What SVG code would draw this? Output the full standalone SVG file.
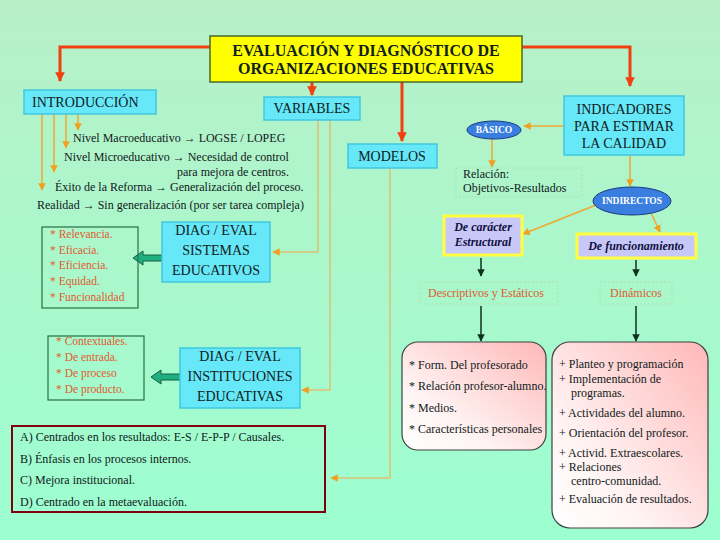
<svg xmlns="http://www.w3.org/2000/svg" width="720" height="540" viewBox="0 0 720 540">
<defs>
<linearGradient id="bg" x1="0" y1="0" x2="0" y2="1"><stop offset="0" stop-color="#b8f0c8"/><stop offset="1" stop-color="#9cffd0"/></linearGradient>
<linearGradient id="pink" x1="1" y1="0" x2="0" y2="1"><stop offset="0" stop-color="#ffb8b8"/><stop offset="0.7" stop-color="#fff4f4"/><stop offset="1" stop-color="#ffffff"/></linearGradient>
<marker id="red" viewBox="0 0 10 10" refX="9" refY="5" markerWidth="3.2" markerHeight="3.2" orient="auto"><path d="M0,0 L10,5 L0,10 z" fill="#f04010"/></marker>
<marker id="or" viewBox="0 0 10 10" refX="9" refY="5" markerWidth="5" markerHeight="5" orient="auto"><path d="M0,0 L10,5 L0,10 z" fill="#f0a020"/></marker>
<marker id="dg" viewBox="0 0 10 10" refX="9" refY="5" markerWidth="5" markerHeight="5" orient="auto"><path d="M0,0 L10,5 L0,10 z" fill="#103020"/></marker>
<style>
text{font-family:"Liberation Serif","Times New Roman",serif;fill:#102020}
.cy{fill:#66e8f8;stroke:#40c8e0;stroke-width:1.5}
.t13{font-size:14px}
.t11{font-size:12px}
.t115{font-size:11.5px}
.o{fill:#e05a30}
.red{stroke:#f04010;stroke-width:3;fill:none}
.orl{stroke:#f0a830;stroke-width:1.5;fill:none}
.tan{stroke:#e0c070;stroke-width:1.5;fill:none}
.dgl{stroke:#103020;stroke-width:1.5;fill:none}
.dash{fill:none;stroke:#b0e0b0;stroke-width:1;stroke-dasharray:2,2}
.lav{fill:#c8c8f8;stroke:#ffff40;stroke-width:3}
.ell{fill:#3a7ee0;stroke:#1a3a80;stroke-width:1}
.et{font-size:9.5px;font-weight:bold;fill:#ffffff}
.bi{font-size:12px;font-weight:bold;font-style:italic;fill:#101040}
.pk{fill:url(#pink);stroke:#404040;stroke-width:1.2}
.gar{fill:#20b080;stroke:#106040;stroke-width:1}
</style>
</defs>
<rect width="720" height="540" fill="url(#bg)"/>
<g id="connectors">
<path class="red" d="M210,47 H60 V81" marker-end="url(#red)"/>
<path class="red" d="M522,47 H630 V86" marker-end="url(#red)"/>
<path class="red" d="M402,82 V141" marker-end="url(#red)"/>
<path class="red" d="M312,82 V95" marker-end="url(#red)"/>
<path class="orl" d="M42,114 V190" marker-end="url(#or)"/>
<path class="orl" d="M54,114 V172" marker-end="url(#or)"/>
<path class="orl" d="M66,114 V148" marker-end="url(#or)"/>
<path class="orl" d="M78,114 V130" marker-end="url(#or)"/>
<path class="tan" d="M318,120 V252 H273" marker-end="url(#or)"/>
<path class="tan" d="M330,120 V390 H302" marker-end="url(#or)"/>
<path class="tan" d="M390,168 V478 H331" marker-end="url(#or)"/>
<path class="orl" d="M564,126 H524" marker-end="url(#or)"/>
<path class="orl" d="M492,139 V167" marker-end="url(#or)"/>
<path class="orl" d="M630,155 V186" marker-end="url(#or)"/>
<path class="orl" d="M596,205 L523,234" marker-end="url(#or)"/>
<path class="orl" d="M651,213 L660,232" marker-end="url(#or)"/>
<path class="dgl" d="M481,258 V276" marker-end="url(#dg)"/>
<path class="dgl" d="M636,260 V276" marker-end="url(#dg)"/>
<path class="dgl" d="M481,306 V341" marker-end="url(#dg)"/>
<path class="dgl" d="M636,306 V341" marker-end="url(#dg)"/>
<path class="gar" d="M168,255 H143 V251 L133,258 L143,265 V261 H168 Z"/>
<path class="gar" d="M186,374 H161 V370 L151,377 L161,384 V380 H186 Z"/>
</g>
<g id="title">
<rect x="210" y="36" width="312" height="46" fill="#ffff00" stroke="#4a6a2a" stroke-width="1.5"/>
<text x="366" y="56" text-anchor="middle" font-size="16" font-weight="bold">EVALUACIÓN Y DIAGNÓSTICO DE</text>
<text x="366" y="74" text-anchor="middle" font-size="16" font-weight="bold">ORGANIZACIONES EDUCATIVAS</text>
</g>
<g id="introduccion">
<rect class="cy" x="24" y="90" width="132" height="24"/>
<text class="t13" x="32" y="107">INTRODUCCIÓN</text>
</g>
<g id="intro-text">
<text class="t11" x="73" y="142">Nivel Macroeducativo → LOGSE / LOPEG</text>
<text class="t11" x="64" y="161">Nivel Microeducativo → Necesidad de control</text>
<text class="t11" x="289" y="176" text-anchor="end">para  mejora de centros.</text>
<text class="t11" x="55" y="191">Éxito de la Reforma → Generalización del proceso.</text>
<text class="t11" x="37" y="209">Realidad → Sin generalización (por ser tarea compleja)</text>
</g>
<g id="variables">
<rect class="cy" x="264" y="97" width="96" height="23"/>
<text class="t13" x="312" y="113" text-anchor="middle">VARIABLES</text>
</g>
<g id="modelos">
<rect class="cy" x="348" y="144" width="89" height="24"/>
<text class="t13" x="392" y="161" text-anchor="middle">MODELOS</text>
</g>
<g id="indicadores">
<rect class="cy" x="564" y="96" width="120" height="59"/>
<text class="t13" x="624" y="114" text-anchor="middle">INDICADORES</text>
<text class="t13" x="624" y="131" text-anchor="middle">PARA ESTIMAR</text>
<text class="t13" x="624" y="148" text-anchor="middle">LA CALIDAD</text>
</g>
<g id="basico">
<ellipse class="ell" cx="494" cy="130" rx="27" ry="9"/>
<text class="et" x="494" y="133" text-anchor="middle">BÁSICO</text>
</g>
<g id="relacion">
<rect class="dash" x="456" y="168" width="126" height="29"/>
<text class="t11" x="463" y="178">Relación:</text>
<text class="t11" x="463" y="192">Objetivos-Resultados</text>
</g>
<g id="indirectos">
<ellipse class="ell" cx="632" cy="201" rx="39" ry="14"/>
<text class="et" x="632" y="204" text-anchor="middle">INDIRECTOS</text>
</g>
<g id="estructural">
<rect class="lav" x="444" y="216" width="78" height="39"/>
<text class="bi" x="483" y="231" text-anchor="middle">De carácter</text>
<text class="bi" x="483" y="246" text-anchor="middle">Estructural</text>
</g>
<g id="funcionamiento">
<rect class="lav" x="577" y="234" width="119" height="24"/>
<text class="bi" x="636" y="250" text-anchor="middle">De funcionamiento</text>
</g>
<g id="descriptivos">
<rect class="dash" x="420" y="282" width="138" height="22"/>
<text class="t11 o" x="486" y="297" text-anchor="middle">Descriptivos y Estáticos</text>
</g>
<g id="dinamicos">
<rect class="dash" x="600" y="282" width="72" height="22"/>
<text class="t11 o" x="636" y="297" text-anchor="middle">Dinámicos</text>
</g>
<g id="estructural-list">
<rect class="pk" x="402" y="342" width="144" height="108" rx="16"/>
<text class="t11" x="409" y="369">* Form. Del profesorado</text>
<text class="t11" x="409" y="390">* Relación profesor-alumno.</text>
<text class="t11" x="409" y="412">* Medios.</text>
<text class="t11" x="409" y="433">* Características personales</text>
</g>
<g id="funcionamiento-list">
<rect class="pk" x="552" y="342" width="156" height="186" rx="18"/>
<text class="t11" x="559" y="368">+ Planteo y programación</text>
<text class="t11" x="559" y="383">+ Implementación de</text>
<text class="t11" x="571" y="397">programas.</text>
<text class="t11" x="559" y="417">+ Actividades del alumno.</text>
<text class="t11" x="559" y="437">+ Orientación del profesor.</text>
<text class="t11" x="559" y="457">+ Activid. Extraescolares.</text>
<text class="t11" x="559" y="471">+ Relaciones</text>
<text class="t11" x="571" y="485">centro-comunidad.</text>
<text class="t11" x="559" y="503">+ Evaluación de resultados.</text>
</g>
<g id="diag-sistemas">
<rect class="cy" x="162" y="222" width="108" height="60"/>
<text class="t13" x="216" y="235" text-anchor="middle">DIAG / EVAL</text>
<text class="t13" x="216" y="255" text-anchor="middle">SISTEMAS</text>
<text class="t13" x="216" y="275" text-anchor="middle">EDUCATIVOS</text>
</g>
<g id="sistemas-list">
<rect x="42" y="227" width="96" height="81" fill="none" stroke="#2a7040" stroke-width="1.2"/>
<text class="t115 o" x="50" y="238">* Relevancia.</text>
<text class="t115 o" x="50" y="254">* Eficacia.</text>
<text class="t115 o" x="50" y="269">* Eficiencia.</text>
<text class="t115 o" x="50" y="285">* Equidad.</text>
<text class="t115 o" x="50" y="301">* Funcionalidad</text>
</g>
<g id="diag-instituciones">
<rect class="cy" x="180" y="348" width="120" height="60"/>
<text class="t13" x="240" y="361" text-anchor="middle">DIAG / EVAL</text>
<text class="t13" x="240" y="381" text-anchor="middle">INSTITUCIONES</text>
<text class="t13" x="240" y="401" text-anchor="middle">EDUCATIVAS</text>
</g>
<g id="instituciones-list">
<rect x="48" y="336" width="96" height="64" fill="none" stroke="#2a7040" stroke-width="1.2"/>
<text class="t115 o" x="56" y="345">* Contextuales.</text>
<text class="t115 o" x="56" y="361">* De entrada.</text>
<text class="t115 o" x="56" y="377">* De proceso</text>
<text class="t115 o" x="56" y="393">* De producto.</text>
</g>
<g id="modelos-list">
<rect x="12" y="426" width="313" height="86" fill="none" stroke="#800010" stroke-width="2"/>
<text class="t11" x="20" y="441">A) Centrados en los resultados: E-S / E-P-P / Causales.</text>
<text class="t11" x="20" y="463">B) Énfasis en los procesos internos.</text>
<text class="t11" x="20" y="484">C) Mejora institucional.</text>
<text class="t11" x="20" y="506">D) Centrado en la metaevaluación.</text>
</g>
</svg>
